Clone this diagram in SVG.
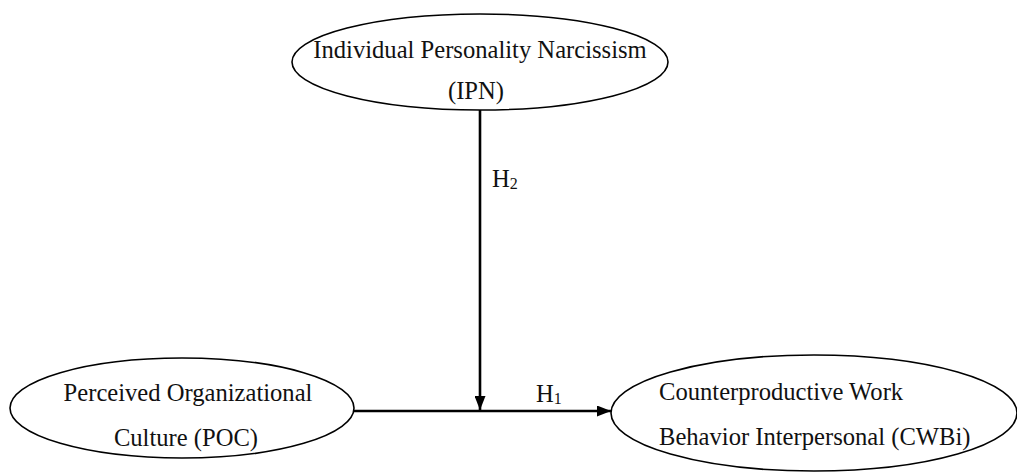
<svg xmlns="http://www.w3.org/2000/svg" width="1017" height="473" viewBox="0 0 1017 473">
<defs>
<style>
.node ellipse{fill:#fff;stroke:#000;stroke-width:1.6}
text{font-family:"Liberation Serif","Times New Roman",serif;font-size:24.6px;fill:#111}
.sub{font-size:16px}
.edge{stroke:#000;stroke-width:2.6;fill:none}
</style>
<marker id="arr" viewBox="0 0 14 11" refX="14" refY="5.5" markerWidth="14" markerHeight="11" markerUnits="userSpaceOnUse" orient="auto">
<path d="M0,0 L14,5.5 L0,11 Z" fill="#000"/>
</marker>
</defs>
<rect width="1017" height="473" fill="#fff"/>
<g id="connectors">
<line class="edge" x1="354" y1="411" x2="611" y2="411" marker-end="url(#arr)"/>
<line class="edge" x1="480" y1="110" x2="480" y2="410" marker-end="url(#arr)"/>
<text x="536" y="402">H<tspan class="sub" dy="2">1</tspan></text>
<text x="492" y="187">H<tspan class="sub" dy="2">2</tspan></text>
</g>
<g id="ipn" class="node">
<ellipse cx="480" cy="62" rx="188" ry="48"/>
<text x="480" y="58" text-anchor="middle">Individual Personality Narcissism</text>
<text x="476" y="99" text-anchor="middle">(IPN)</text>
</g>
<g id="poc" class="node">
<ellipse cx="182" cy="408" rx="172" ry="50"/>
<text x="188" y="401" text-anchor="middle">Perceived Organizational</text>
<text x="186" y="446" text-anchor="middle">Culture (POC)</text>
</g>
<g id="cwbi" class="node">
<ellipse cx="814" cy="413" rx="203" ry="58"/>
<text x="659" y="400">Counterproductive Work</text>
<text x="659" y="445">Behavior Interpersonal (CWBi)</text>
</g>
</svg>
